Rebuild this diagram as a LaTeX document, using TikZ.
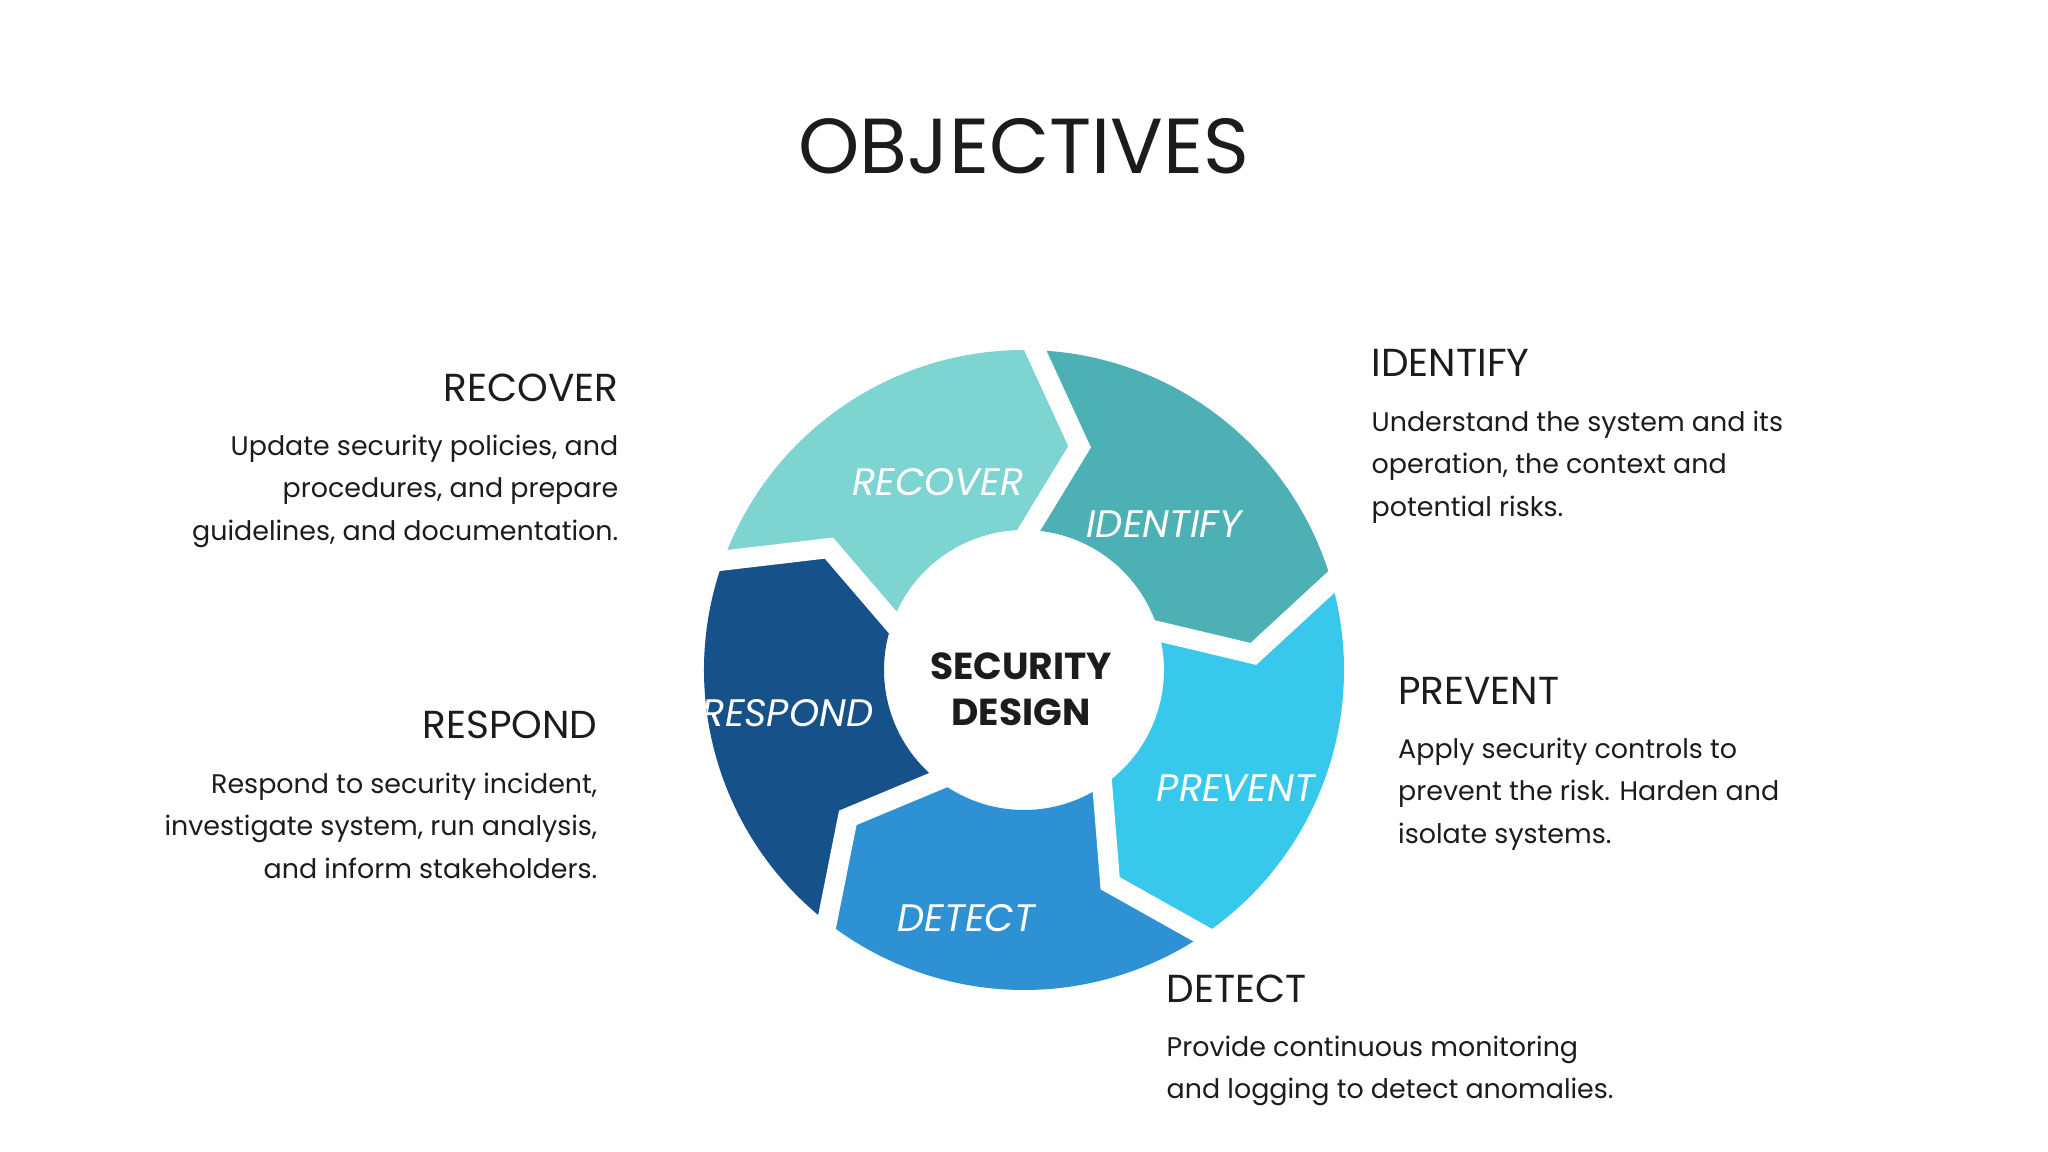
\documentclass[tikz,border=0pt]{standalone}
\usepackage{fontspec}
\setmainfont{Poppins}
\usetikzlibrary{calc}

\definecolor{textcol}{HTML}{1C1C1C}
\definecolor{recovercol}{HTML}{7DD4D1}
\definecolor{identifycol}{HTML}{4CB0B4}
\definecolor{preventcol}{HTML}{38C8EC}
\definecolor{detectcol}{HTML}{2E91D3}
\definecolor{respondcol}{HTML}{165289}

\begin{document}
\begin{tikzpicture}[
    seglabel/.style={text=white, font=\itshape\fontsize{10.9}{12}\selectfont},
    heading/.style={text=textcol, inner sep=0, font=\fontsize{11.1}{12}\selectfont},
    body/.style={text=textcol, inner sep=0, font=\fontsize{7.65}{12.15}\selectfont},
    gap/.style={white, line width=2mm, line join=miter}
]
    \useasboundingbox (0,0) rectangle (20.48,11.52);
    \node[text=textcol, font=\fontsize{22.2}{24}\selectfont] (title) at (10.24,10.06) {OBJECTIVES};

    \begin{scope}[shift={(10.24,4.82)}]
        % ring segments, clockwise
        \foreach \s/\col in {160/recovercol, 88/identifycol, 16/preventcol, -56/detectcol, -128/respondcol}{
            \pgfmathsetmacro{\e}{\s-72}
            \fill[\col] (\s:3.2) arc[start angle=\s, end angle=\e, radius=3.2]
                -- ({\e-12}:2.3) -- (\e:1.4) arc[start angle=\e, end angle=\s, radius=1.4]
                -- ({\s-12}:2.3) -- cycle;
        }
        % white gaps between segments
        \foreach \b in {160, 88, 16, -56, -128}{
            \draw[gap] ($({\b-12}:2.3)!1.2!(\b:3.2)$) -- ({\b-12}:2.3) -- ($({\b-12}:2.3)!1.2!(\b:1.4)$);
        }
        \clip (0,0) circle (3.2);
        \node[seglabel] (lrecover) at (-0.86,1.88) {RECOVER};
        \node[seglabel] (lidentify) at (1.40,1.46) {IDENTIFY};
        \node[seglabel] (lprevent) at (2.12,-1.18) {PREVENT};
        \node[seglabel] (ldetect) at (-0.575,-2.48) {DETECT};
        \node[seglabel] (lrespond) at (-2.365,-0.43) {RESPOND};
    \end{scope}

    \node[text=textcol, align=center, font=\bfseries\fontsize{10.7}{13}\selectfont] (center) at (10.21,4.63) {SECURITY\\DESIGN};

    % right side
    \node[heading, anchor=west] (hidentify) at (13.71,7.89) {IDENTIFY};
    \node[body, anchor=north west, align=left] (bidentify) at (13.71,7.42)
        {Understand the system and its\\operation, the context and\\potential risks.};
    \node[heading, anchor=west] (hprevent) at (13.975,4.61) {PREVENT};
    \node[body, anchor=north west, align=left] (bprevent) at (13.975,4.15)
        {Apply security controls to\\prevent the risk. Harden and\\isolate systems.};
    \node[heading, anchor=west] (hdetect) at (11.66,1.634) {DETECT};
    \node[body, anchor=north west, align=left] (bdetect) at (11.66,1.17)
        {Provide continuous monitoring\\and logging to detect anomalies.};

    % left side
    \node[heading, anchor=east] (hrecover) at (6.19,7.64) {RECOVER};
    \node[body, anchor=north east, align=right] (brecover) at (6.19,7.18)
        {Update security policies, and\\procedures, and prepare\\guidelines, and documentation.};
    \node[heading, anchor=east] (hrespond) at (5.98,4.27) {RESPOND};
    \node[body, anchor=north east, align=right] (brespond) at (5.98,3.80)
        {Respond to security incident,\\investigate system, run analysis,\\and inform stakeholders.};
\end{tikzpicture}
\end{document}
